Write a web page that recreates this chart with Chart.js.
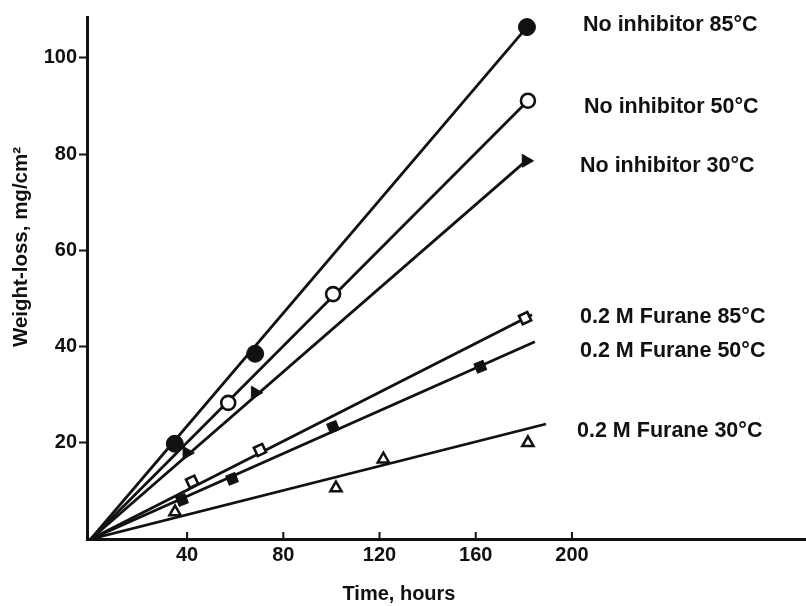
<!DOCTYPE html>
<html>
<head>
<meta charset="utf-8">
<script src="https://cdn.jsdelivr.net/npm/chart.js@4.4.1/dist/chart.umd.min.js"></script>
<style>
  html, body { margin: 0; padding: 0; background: #fff; }
  #wrap { width: 806px; height: 606px; }
</style>
</head>
<body>
<div id="wrap"><canvas id="c" width="806" height="606"></canvas></div>
<script>
// ---- Data ----
const seriesNames = [
  "No inhibitor 85°C", "No inhibitor 50°C", "No inhibitor 30°C",
  "0.2 M Furane 85°C", "0.2 M Furane 50°C", "0.2 M Furane 30°C"
];
// measured points (time, hours / weight-loss, mg/cm2)
const hoursNo85 = [34.9, 68.3, 181.3];
const lossNo85  = [19.8, 38.5, 106.4];
const hoursNo50 = [57.1, 100.7, 181.7];
const lossNo50  = [28.3, 50.9, 91.1];
const hoursNo30 = [39.9, 68.3, 180.9];
const lossNo30  = [17.9, 30.4, 78.6];
const hoursFu85 = [42.1, 70.3, 180.5];
const lossFu85  = [11.9, 18.5, 45.9];
const hoursFu50 = [37.9, 58.7, 100.7, 161.9];
const lossFu50  = [8.1, 12.5, 23.3, 35.8];
const hoursFu30 = [35.0, 101.9, 121.6, 181.7];
const lossFu30  = [5.6, 10.6, 16.6, 20.0];
// fitted straight lines from the origin: end points
const fitStartHours = [0, 0, 0, 0, 0, 0];
const fitStartLoss  = [0, 0, 0, 0, 0, 0];
const fitEndHours   = [181.3, 181.7, 180.9, 183.4, 184.6, 189.2];
const fitEndLoss    = [106.4, 91.1, 78.6, 46.6, 41.0, 23.9];
// axes
const xTickValues = [40, 80, 120, 160, 200];
const xTickLabels = ["40", "80", "120", "160", "200"];
const yTickValues = [20, 40, 60, 80, 100];
const xTitle = "Time, hours";
const yTitle = "Weight-loss, mg/cm²";

const pts = (xs, ys) => xs.map((x, i) => ({ x: x, y: ys[i] }));
const INK = '#111';
const FONT = '"Liberation Sans", Arial, sans-serif';

const pointSets = [
  { data: pts(hoursNo85, lossNo85), pointStyle: 'circle', pointRadius: 8.5, pointBackgroundColor: INK, pointBorderWidth: 1 },
  { data: pts(hoursNo50, lossNo50), pointStyle: 'circle', pointRadius: 7, pointBackgroundColor: '#fff', pointBorderWidth: 2.6 },
  { data: pts(hoursNo30, lossNo30), pointStyle: 'triangle', pointRadius: 7.5, pointRotation: 90, pointBackgroundColor: INK, pointBorderWidth: 1 },
  { data: pts(hoursFu85, lossFu85), pointStyle: 'rect', pointRadius: 6.5, pointRotation: -25, pointBackgroundColor: '#fff', pointBorderWidth: 2.6 },
  { data: pts(hoursFu50, lossFu50), pointStyle: 'rect', pointRadius: 7, pointRotation: -22, pointBackgroundColor: INK, pointBorderWidth: 1 },
  { data: pts(hoursFu30, lossFu30), pointStyle: 'triangle', pointRadius: 6.5, pointRotation: 0, pointBackgroundColor: '#fff', pointBorderWidth: 2.5 }
].map((d, i) => Object.assign({
  label: seriesNames[i] + ' data', showLine: false, pointBorderColor: INK,
  pointHoverRadius: 0, order: 0
}, d));

const lineSets = seriesNames.map((name, i) => ({
  label: name,
  data: [{ x: fitStartHours[i], y: fitStartLoss[i] }, { x: fitEndHours[i], y: fitEndLoss[i] }],
  showLine: true, pointRadius: 0, borderColor: INK, borderWidth: 2.8, order: 1
}));

// annotation layer: x tick marks/labels, series names, axis titles
const annotate = {
  id: 'annotate',
  afterDraw(chart) {
    const ctx = chart.ctx, xs = chart.scales.x, area = chart.chartArea;
    ctx.save();
    ctx.strokeStyle = INK; ctx.fillStyle = INK; ctx.lineWidth = 2;
    ctx.font = 'bold 20px ' + FONT;
    ctx.textAlign = 'center'; ctx.textBaseline = 'middle';
    xTickValues.forEach((v, i) => {
      const px = xs.getPixelForValue(v);
      ctx.beginPath(); ctx.moveTo(px, area.bottom); ctx.lineTo(px, area.bottom - 7); ctx.stroke();
      ctx.fillText(xTickLabels[i], px, area.bottom + 16);
    });
    // series labels
    const labelPos = [[583, 31], [584, 113], [580, 172], [580, 323], [580, 357], [577, 437]];
    ctx.font = 'bold 21.5px ' + FONT;
    ctx.textAlign = 'left'; ctx.textBaseline = 'alphabetic';
    seriesNames.forEach((t, i) => ctx.fillText(t, labelPos[i][0], labelPos[i][1]));
    // axis titles
    ctx.font = 'bold 20px ' + FONT;
    ctx.textAlign = 'center'; ctx.textBaseline = 'middle';
    ctx.fillText(xTitle, 399, 594);
    ctx.font = 'bold 20.5px ' + FONT;
    ctx.translate(21, 247); ctx.rotate(-Math.PI / 2);
    ctx.fillText(yTitle, 0, 0);
    ctx.restore();
  }
};

const whiteBg = {
  id: 'whiteBg',
  beforeDraw(chart) {
    const ctx = chart.ctx; ctx.save(); ctx.fillStyle = '#fff';
    ctx.fillRect(0, 0, chart.width, chart.height); ctx.restore();
  }
};

const tickFont = { family: FONT, size: 20, weight: 'bold' };

new Chart(document.getElementById('c'), {
  type: 'scatter',
  data: { datasets: pointSets.concat(lineSets) },
  options: {
    responsive: false,
    animation: false,
    devicePixelRatio: 1,
    layout: { autoPadding: false, padding: { top: 17, right: 0, left: 0, bottom: 0 } },
    plugins: { legend: { display: false }, tooltip: { enabled: false } },
    scales: {
      x: {
        type: 'linear', min: -1.6, max: 297.3,
        afterBuildTicks: s => { s.ticks = xTickValues.map(v => ({ value: v })); },
        afterFit: s => { s.height = 67; },
        grid: { display: false },
        border: { display: true, color: INK, width: 3 },
        ticks: { display: false }
      },
      y: {
        type: 'linear', min: 0, max: 108.5,
        afterBuildTicks: s => { s.ticks = yTickValues.map(v => ({ value: v })); },
        afterFit: s => { s.width = 87; },
        grid: { display: true, drawOnChartArea: false, drawTicks: true, tickLength: 8, tickWidth: 2, tickColor: INK },
        border: { display: true, color: INK, width: 3 },
        ticks: { color: INK, font: tickFont, padding: 2, autoSkip: false }
      }
    }
  },
  plugins: [whiteBg, annotate]
});
</script>
</body>
</html>
